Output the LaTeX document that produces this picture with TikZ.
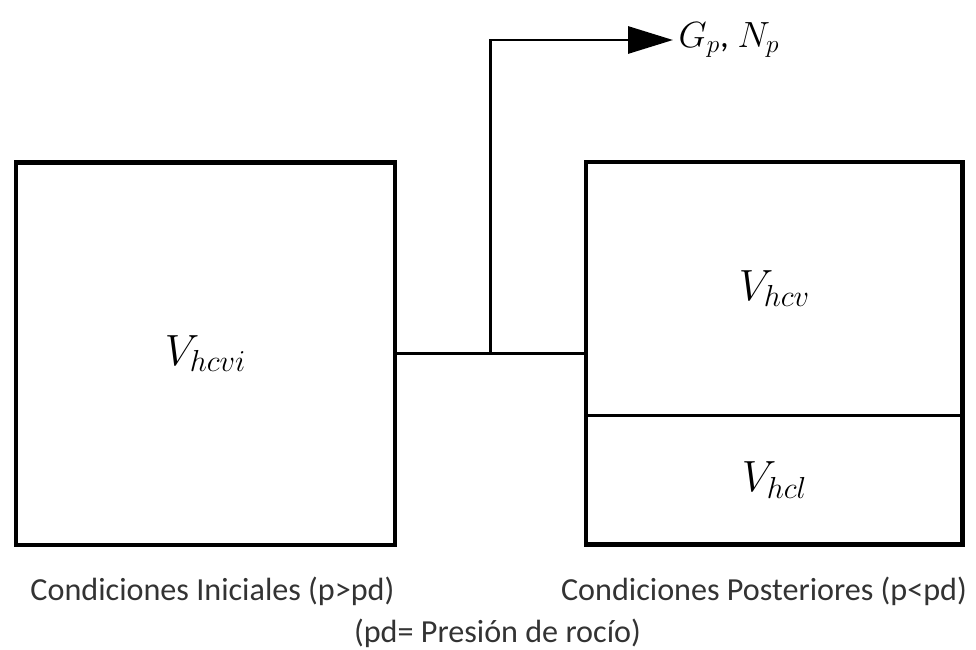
\documentclass[tikz,border=0pt]{standalone}
\usepackage{amsmath}
\usepackage{fontspec}
\setmainfont{Carlito}
\usepackage{tikz}
\usetikzlibrary{arrows.meta, positioning, calc}

\begin{document}
\begin{tikzpicture}[>={Triangle[length=0.9cm, width=0.54cm]}, x=0.02cm, y=-0.02cm,
    vessel/.style={draw, line width=2.8pt, inner sep=0pt, outer sep=0pt},
    pipe/.style={line width=1.7pt},
    volume/.style={font=\fontsize{24}{28}\selectfont},
    caption/.style={font=\fontsize{18.3}{22}\selectfont, text=black!80, inner sep=0pt}]
    \useasboundingbox (0,0) rectangle (976,649);
    % recipiente inicial
    \node [vessel, minimum width=7.58cm, minimum height=7.66cm, volume] (ini) at (205.5,353.5) {$V_{hcvi}$};
    % recipiente posterior, con nivel de liquido
    \node [vessel, minimum width=7.54cm, minimum height=7.66cm, anchor=north west] (post) at (586,162) {};
    \coordinate (nivel) at (586,415);
    \draw [pipe] (nivel -| post.west) -- (nivel -| post.east);
    \node [volume] (gas) at ($(post.north)!0.5!(nivel -| post.north)$) {$V_{hcv}$};
    \node [volume] (liq) at ($(nivel -| post.south)!0.5!(post.south)$) {$V_{hcl}$};
    % linea de union y produccion
    \coordinate (tee) at ($(ini.east)!0.5!(ini.east -| post.west)$);
    \node [anchor=west, inner sep=3pt, font=\fontsize{20}{24}\selectfont] (prod) at (673,40) {$G_p$,\hspace{0.25em}$N_p$};
    \draw [pipe] (ini.east) -- (ini.east -| post.west);
    \draw [pipe, ->] (tee) |- (prod.west);
    % textos
    \node [caption] (capini) at (212.5,591) {Condiciones Iniciales (p>pd)};
    \node [caption] (capfin) at (764,591) {Condiciones Posteriores (p<pd)};
    \node [caption] (nota) at (497.5,633) {(pd= Presión de rocío)};
\end{tikzpicture}
\end{document}
